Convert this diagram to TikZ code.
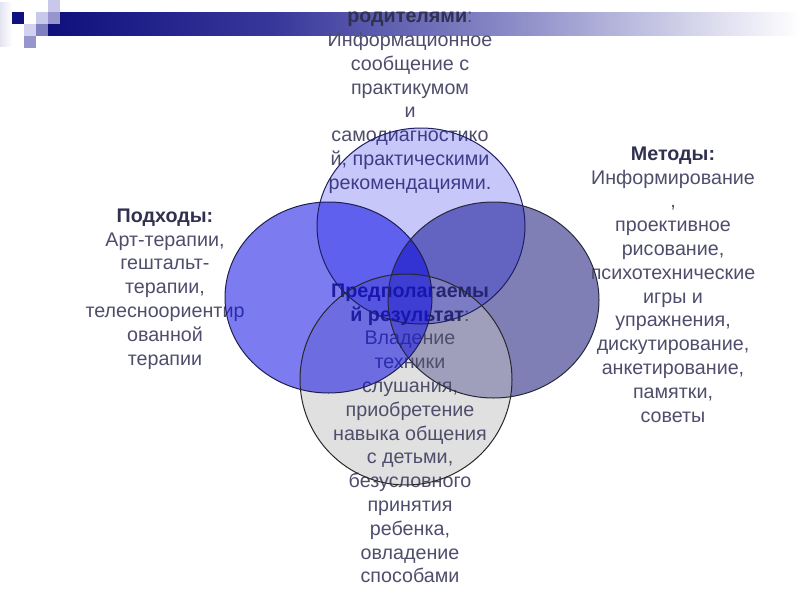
\documentclass[tikz,border=0pt]{standalone}
\usepackage{fontspec}
\setmainfont{Liberation Sans}
\definecolor{bnavy}{RGB}{16,16,125}
\definecolor{bmid}{RGB}{55,55,155}
\definecolor{blight}{RGB}{140,140,200}
\definecolor{txt}{RGB}{78,78,108}
\definecolor{txtb}{RGB}{48,48,80}
\definecolor{cright}{RGB}{0,0,110}
\definecolor{cbottom}{RGB}{193,193,193}
\definecolor{cleft}{RGB}{16,16,227}
\definecolor{ctop}{RGB}{0,0,232}
\definecolor{ltop}{RGB}{30,30,100}
\definecolor{lleft}{RGB}{30,30,80}
\definecolor{lright}{RGB}{40,40,60}
\definecolor{lbottom}{RGB}{40,40,40}
\definecolor{sqnavy}{RGB}{16,16,128}
\definecolor{sqlight}{RGB}{200,200,235}
\definecolor{sqpale}{RGB}{210,210,238}
\definecolor{sqmid}{RGB}{150,150,205}
\definecolor{sqdark}{RGB}{128,128,192}
\definecolor{sqfade}{RGB}{228,228,242}
\pgfdeclarehorizontalshading{bannershade}{100bp}{color(0bp)=(bnavy); color(25bp)=(bnavy); color(40bp)=(bmid); color(56bp)=(blight); color(75bp)=(white); color(100bp)=(white)}
\tikzset{
  txtblock/.style={align=center, inner sep=0pt, anchor=north, text=txt,
    font=\fontsize{19.7}{23.8}\selectfont},
  outline/.style={line width=1pt}
}
\newcommand{\fst}{\rule{0pt}{16pt}}
\begin{document}
\begin{tikzpicture}[x=1pt,y=-1pt]
\useasboundingbox (0,0) rectangle (800,600);
% header decoration
\shade[left color=sqfade, right color=white] (0,2) rectangle (12,46);
\shade[shading=bannershade] (48,12) rectangle (800,35);
\fill[sqnavy] (12,12) rectangle (24,24);
\fill[sqlight] (48,0) rectangle (60,12);
\fill[sqlight] (36,12) rectangle (48,24);
\fill[sqmid] (48,12) rectangle (60,24);
\fill[sqpale] (24,24) rectangle (36,36);
\fill[sqdark] (36,24) rectangle (48,36);
\fill[sqmid] (24,36) rectangle (36,48);
% lower circle fills
\fill[cright, fill opacity=0.5] (493.5,300) ellipse [x radius=105.5pt, y radius=98pt];
\fill[cbottom, fill opacity=0.5] (406,379.5) ellipse [x radius=106pt, y radius=105.5pt];
% texts
\node[txtblock] (forms) at (410,6.4) {\fst\textcolor{txtb}{\textbf{родителями}}:\\Информационное\\сообщение с\\практикумом\\и\\самодиагностико\\й, практическими\\рекомендациями.};
\node[txtblock] (methods) at (673,144) {\fst\textcolor{txtb}{\textbf{Методы:}}\\Информирование\\,\\проективное\\рисование,\\психотехнические\\игры и\\упражнения,\\дискутирование,\\анкетирование,\\памятки,\\советы};
\node[txtblock] (approaches) at (165,206) {\fst\textcolor{txtb}{\textbf{Подходы:}}\\Арт-терапии,\\гештальт-\\терапии,\\телесноориентир\\ованной\\терапии};
\node[txtblock] (result) at (410,281) {\fst\textcolor{txtb}{\textbf{Предполагаемы}}\\\textcolor{txtb}{\textbf{й результат}}:\\Владение\\техники\\слушания,\\приобретение\\навыка общения\\с детьми,\\безусловного\\принятия\\ребенка,\\овладение\\способами};
% upper circle fills (over the text)
\fill[cleft, fill opacity=0.55] (328.5,297.5) ellipse [x radius=103.5pt, y radius=95.5pt];
\fill[ctop, fill opacity=0.22] (421,226) ellipse [x radius=104pt, y radius=98pt];
% outlines
\draw[outline, lright] (493.5,300) ellipse [x radius=105.5pt, y radius=98pt];
\draw[outline, lbottom] (406,379.5) ellipse [x radius=106pt, y radius=105.5pt];
\draw[outline, lleft] (328.5,297.5) ellipse [x radius=103.5pt, y radius=95.5pt];
\draw[outline, ltop] (421,226) ellipse [x radius=104pt, y radius=98pt];
\end{tikzpicture}
\end{document}
